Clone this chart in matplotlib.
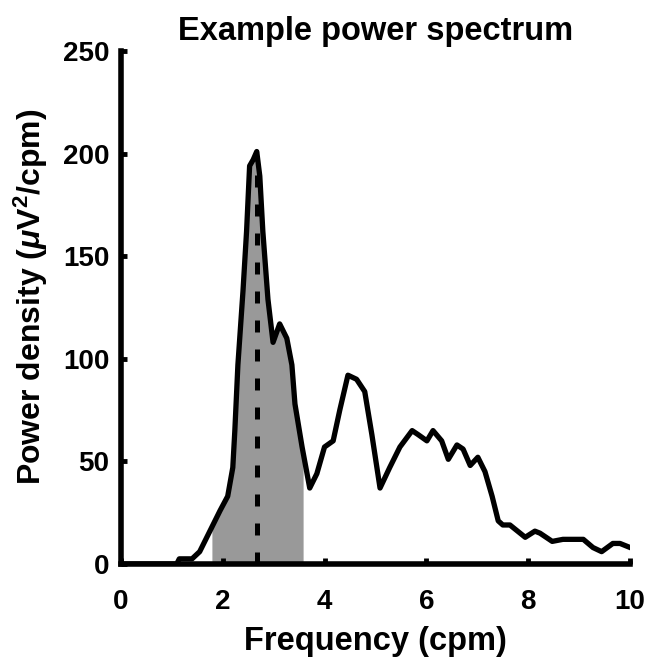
import numpy as np
import matplotlib
matplotlib.use("Agg")
import matplotlib.pyplot as plt

# Spectrum
freq = [0.0, 1.1, 1.15, 1.4, 1.55, 1.75, 1.95, 2.1, 2.2, 2.24, 2.3, 2.4, 2.47, 2.53,
        2.6, 2.67, 2.73, 2.79, 2.89, 2.99, 3.12, 3.26, 3.36, 3.42, 3.56, 3.71, 3.85,
        4.0, 4.17, 4.3, 4.46, 4.63, 4.79, 4.93, 5.09, 5.28, 5.48, 5.72, 5.84, 6.01,
        6.13, 6.3, 6.43, 6.6, 6.72, 6.86, 7.01, 7.15, 7.29, 7.41, 7.5, 7.64, 7.94,
        8.13, 8.23, 8.47, 8.68, 8.86, 9.08, 9.27, 9.44, 9.66, 9.8, 10.0]
power = [0, 0, 2.5, 2.5, 6, 16, 26, 33, 47, 65, 97, 133, 162, 194,
         197, 201, 189, 162, 129, 108, 117, 110, 97, 78, 57, 37, 44,
         57, 60, 75, 92, 90, 84, 63, 37, 47, 57, 65, 63, 60,
         65, 60, 51, 58, 56, 48, 52, 45, 33, 21, 19, 19, 13,
         16, 15, 11, 12, 12, 12, 8, 6, 10, 10, 8]

band = (1.79, 3.58)   # shaded band (cpm)
peak_freq = 2.67      # dominant frequency

plt.rcParams['font.family'] = ['Liberation Sans', 'DejaVu Sans']
plt.rcParams['font.weight'] = 'bold'
plt.rcParams['mathtext.fontset'] = 'custom'
plt.rcParams['mathtext.rm'] = 'Liberation Sans:bold'
plt.rcParams['mathtext.it'] = 'Liberation Sans:italic'

freq = np.array(freq)
power = np.array(power)

fig = plt.figure(figsize=(6.49, 6.57), dpi=100)
ax = fig.add_axes([0.186, 0.1416, 0.785, 0.7808])

# shaded band under the curve
fx = np.linspace(band[0], band[1], 300)
ax.fill_between(fx, 0, np.interp(fx, freq, power), color='#999999', lw=0)

ax.plot(freq, power, color='black', lw=3.8, solid_joinstyle='round')
ax.vlines(peak_freq, 0, np.interp(peak_freq, freq, power) - 5, color='black',
          lw=3.6, linestyles=(0, (2.4, 3.4)))

ax.set_xlim(0, 10)
ax.set_ylim(0, 250)
ax.set_xticks([0, 2, 4, 6, 8, 10])
ax.set_yticks([0, 50, 100, 150, 200, 250])

for s in ['top', 'right']:
    ax.spines[s].set_visible(False)
for s in ['left', 'bottom']:
    ax.spines[s].set_linewidth(4)
ax.tick_params(direction='in', length=4, width=3.5, labelsize=20)
ax.tick_params(axis='x', pad=18)
ax.tick_params(axis='y', pad=8)

ax.set_title("Example power spectrum", fontsize=23.5, fontweight='bold', pad=8)
ax.set_xlabel("Frequency (cpm)", fontsize=23.5, fontweight='bold', labelpad=8)
ax.set_ylabel("Power density ($\\mu$V$^2$/cpm)", fontsize=23, fontweight='bold')
ax.yaxis.set_label_coords(-0.138, 0.52)

fig.savefig("out.png", dpi=100)
